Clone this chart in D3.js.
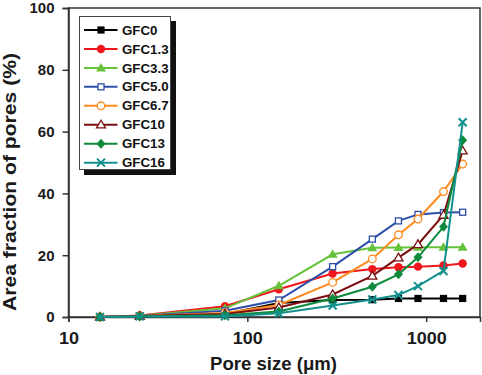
<!DOCTYPE html>
<html><head><meta charset="utf-8">
<script src="https://cdn.jsdelivr.net/npm/d3@7"></script>
<style>body{margin:0;background:#fff}svg{display:block;font-family:"Liberation Sans",Arial,sans-serif;font-weight:bold}</style>
</head><body><svg id="c" width="482" height="375"></svg>
<script>
const poreSizes = [15, 25, 75, 150, 300, 500, 700, 900, 1250, 1600];
const seriesNames = ["GFC0","GFC1.3","GFC3.3","GFC5.0","GFC6.7","GFC10","GFC13","GFC16"];
const gfc0  = [0, 0.3, 1.0, 4.5, 5.5, 5.6, 6.0, 6.0, 6.0, 6.0];
const gfc13 = [0, 0.5, 3.5, 9.0, 14.1, 15.5, 16.1, 16.3, 16.7, 17.3];
const gfc33 = [0, 0.4, 2.8, 10.1, 20.3, 22.4, 22.5, 22.6, 22.6, 22.6];
const gfc50 = [0, 0.3, 2.0, 5.5, 16.3, 25.2, 31.1, 33.2, 33.8, 33.9];
const gfc67 = [0, 0.3, 1.3, 3.9, 11.2, 18.8, 26.6, 31.7, 40.6, 49.5];
const gfc10 = [0, 0.3, 1.0, 3.1, 7.3, 13.3, 19.2, 23.5, 33.0, 53.8];
const gfc130= [0, 0.2, 0.6, 1.8, 6.0, 9.8, 13.8, 19.3, 29.2, 57.2];
const gfc16 = [0, 0.2, 0.2, 1.2, 3.7, 5.7, 7.1, 10.0, 14.9, 63.0];
const xTicks = [10, 100, 1000];
const yTicks = [0, 20, 40, 60, 80, 100];

const values = [gfc0, gfc13, gfc33, gfc50, gfc67, gfc10, gfc130, gfc16];
const colors = ["#000000","#f0161d","#66c23a","#2d4fa8","#ff8a1e","#7b0f12","#0e8a3c","#12908e"];
const markers = ["squareFill","circleFill","triFill","squareOpen","circleOpen","triOpen","diamondFill","cross"];

const svg = d3.select("#c");
const L=68.5, R=480, T=8, B=317;
const x = d3.scaleLog().domain([10, 2000]).range([L, R]);
const y = d3.scaleLinear().domain([0, 100]).range([B, T]);
const axisCol = "#333";

// box
svg.append("rect").attr("x",L).attr("y",T).attr("width",R-L).attr("height",B-T)
  .attr("fill","none").attr("stroke",axisCol).attr("stroke-width",1.5);

// axes
const xa = svg.append("g").attr("transform",`translate(0,${B})`)
  .call(d3.axisBottom(x).tickValues(xTicks).tickSize(5).tickPadding(11).tickFormat(d3.format("d")));
const ya = svg.append("g").attr("transform",`translate(${L},0)`)
  .call(d3.axisLeft(y).tickValues(yTicks).tickSize(6).tickPadding(8));
[xa, ya].forEach(g => {
  g.select(".domain").attr("stroke",axisCol).attr("stroke-width",1.5);
  g.selectAll(".tick line").attr("stroke",axisCol).attr("stroke-width",1.5);
  g.selectAll("text").attr("fill","#1a1a1a").attr("font-family","Liberation Sans, Arial, sans-serif").attr("font-weight","bold");
});
ya.selectAll("text").attr("font-size",15);
xa.selectAll("text").attr("font-size",16).each(function(d){
  d3.select(this).attr("textLength", String(d).length*10).attr("lengthAdjust","spacingAndGlyphs");
});

// titles
svg.append("text").attr("x",(210+337)/2).attr("y",370).attr("text-anchor","middle")
  .attr("font-size",18).attr("fill","#1a1a1a").attr("textLength",127).attr("lengthAdjust","spacingAndGlyphs")
  .text("Pore size (\u03bcm)");
svg.append("text").attr("transform","translate(16,182) rotate(-90)").attr("text-anchor","middle")
  .attr("font-size",17.5).attr("fill","#1a1a1a").attr("textLength",258).attr("lengthAdjust","spacingAndGlyphs")
  .text("Area fraction of pores (%)");

function drawMarker(g, type, cx, cy, col){
  const s = 3.6;
  switch(type){
    case "squareFill": g.append("rect").attr("x",cx-s).attr("y",cy-s).attr("width",2*s).attr("height",2*s).attr("fill",col); break;
    case "squareOpen": g.append("rect").attr("x",cx-s+0.6).attr("y",cy-s+0.6).attr("width",2*s-1.2).attr("height",2*s-1.2).attr("fill","#fff").attr("stroke",col).attr("stroke-width",1.3); break;
    case "circleFill": g.append("circle").attr("cx",cx).attr("cy",cy).attr("r",4.2).attr("fill",col); break;
    case "circleOpen": g.append("circle").attr("cx",cx).attr("cy",cy).attr("r",3.8).attr("fill","#fff").attr("stroke",col).attr("stroke-width",1.3); break;
    case "triFill": g.append("path").attr("d",`M${cx},${cy-5}L${cx+5},${cy+3.5}L${cx-5},${cy+3.5}Z`).attr("fill",col); break;
    case "triOpen": g.append("path").attr("d",`M${cx},${cy-4.5}L${cx+4.5},${cy+3.2}L${cx-4.5},${cy+3.2}Z`).attr("fill","#fff").attr("stroke",col).attr("stroke-width",1.3); break;
    case "diamondFill": g.append("path").attr("d",`M${cx},${cy-5}L${cx+4.5},${cy}L${cx},${cy+5}L${cx-4.5},${cy}Z`).attr("fill",col); break;
    case "cross": g.append("path").attr("d",`M${cx-4},${cy-4}L${cx+4},${cy+4}M${cx-4},${cy+4}L${cx+4},${cy-4}`).attr("stroke",col).attr("stroke-width",2); break;
  }
}

const line = d3.line().x(d=>x(d[0])).y(d=>y(d[1]));
values.forEach((vals,i)=>{
  const pts = poreSizes.map((p,j)=>[p, vals[j]]);
  const g = svg.append("g");
  g.append("path").attr("d",line(pts)).attr("fill","none").attr("stroke",colors[i]).attr("stroke-width",2);
  pts.forEach(p=>drawMarker(g, markers[i], x(p[0]), y(p[1]), colors[i]));
});

// legend
const lg = svg.append("g");
lg.append("rect").attr("x",84).attr("y",21).attr("width",92).attr("height",154).attr("fill","#111");
lg.append("rect").attr("x",79.5).attr("y",16.5).attr("width",91).attr("height",153).attr("fill","#fff").attr("stroke","#444").attr("stroke-width",1);
seriesNames.forEach((n,i)=>{
  const cy = 30 + i*18.95;
  lg.append("line").attr("x1",84).attr("x2",117.5).attr("y1",cy).attr("y2",cy).attr("stroke",colors[i]).attr("stroke-width",2);
  drawMarker(lg, markers[i], 101, cy, colors[i]);
  lg.append("text").attr("x",122).attr("y",cy+4.6).attr("font-size",13.3).attr("fill","#111").text(n);
});
</script></body></html>
